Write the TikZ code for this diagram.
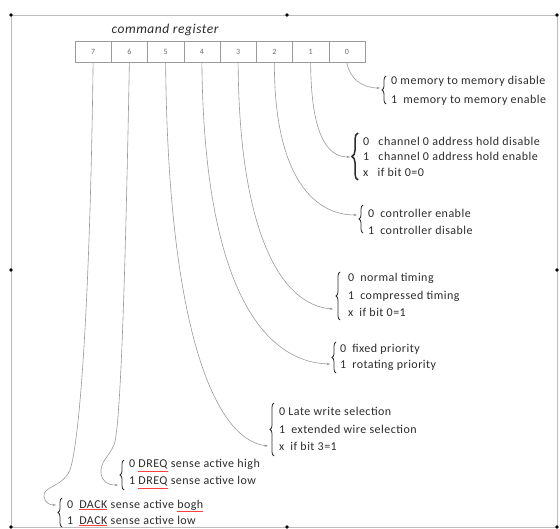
\documentclass[tikz,border=0pt]{standalone}
\usepackage{fontspec}
\setmainfont{Carlito}[LetterSpace=4]
\usetikzlibrary{arrows.meta,decorations.pathreplacing}
\definecolor{ink}{HTML}{2B2B2B}
\definecolor{wire}{HTML}{9A9A9A}
\definecolor{framegray}{HTML}{BDBDBD}
% spell-checker style red underline
\newcommand{\spell}[1]{{\color{red!75}\underline{\textcolor{ink}{#1}}}}
\newcommand{\gsize}[1]{\fontsize{12}{#1}\selectfont}

\begin{document}
\begin{tikzpicture}[x=1pt,y=-1pt,
  cell/.style={draw=wire, line width=0.5pt, minimum width=36.25pt, minimum height=21pt,
    inner sep=0, font=\fontsize{8}{8}\selectfont, text=wire!70!black},
  lbl/.style={anchor=west, align=left, inner sep=0, text=ink},
  wirecon/.style={draw=wire, line width=0.6pt, -{Stealth[length=3.5pt,width=2.6pt]}},
  brc/.style={draw=ink, line width=0.8pt, decorate, decoration={brace, amplitude=4pt}},
  handle/.style={fill=black, draw=none}]

\useasboundingbox (0,0) rectangle (560,529);

% canvas frame with its handles
\draw[framegray, line width=0.8pt] (11,15) rectangle (557,527);
\foreach \hx/\hy in {11/15,287/15,557/15,11/270,557/270,11/527,287/527,557/527}
  \fill[handle] (\hx,\hy) circle (1.8pt);

% title
\node[font=\fontsize{13.5}{13.5}\selectfont\itshape, text=ink] (title) at (165,30) {command register};

% register cells, bit 7 on the left
\foreach \b [count=\k from 0] in {7,6,5,4,3,2,1,0}
  \node[cell] (c\b) at ({93.125+\k*36.25},51.5) {\b};

% descriptions of each bit
\node[lbl, font=\gsize{19}] (t0) at (391,90.5)
  {0 memory to memory disable\\1\enspace memory to memory enable};
\node[lbl, font=\gsize{15.5}] (t1) at (363,156.5)
  {0\enspace\ channel 0 address hold disable\\1\enspace\ channel 0 address hold enable\\x\enspace\ if bit 0=0};
\node[lbl, font=\gsize{17}] (t2) at (368,221.5)
  {0\enspace controller enable\\1\enspace controller disable};
\node[lbl, font=\gsize{17.5}] (t3) at (348,295)
  {0\enspace normal timing\\1\enspace compressed timing\\x\enspace if bit 0=1};
\node[lbl, font=\gsize{16}] (t4) at (340,357)
  {0\enspace fixed priority\\1\enspace rotating priority};
\node[lbl, font=\gsize{17.5}] (t5) at (279,429)
  {0 Late write selection\\1\enspace extended wire selection\\x\enspace if bit 3=1};
\node[lbl, font=\gsize{17}] (t6) at (129,474)
  {0 \spell{DREQ} sense active high\\1 \spell{DREQ} sense active low};
\node[lbl, font=\gsize{16}] (t7) at (67,513)
  {0\enspace \spell{DACK} sense active \spell{bogh}\\1\enspace \spell{DACK} sense active low};

% braces
\draw[brc] (386,104) -- (386,76);
\draw[brc, line width=1.5pt, decoration={brace, amplitude=6pt}] (358,180) -- (358,133);
\draw[brc] (363,233) -- (363,205);
\draw[brc] (340,320) -- (340,272);
\draw[brc] (336,373) -- (336,342);
\draw[brc] (274,456) -- (274,403);
\draw[brc] (124,490) -- (124,460);
\draw[brc] (62,527) -- (62,498);

% arrow ends at the braces
\coordinate (e0) at (380,88);
\coordinate (e1) at (350,157);
\coordinate (e2) at (357,215);
\coordinate (e3) at (333,309);
\coordinate (e4) at (330,364);
\coordinate (e5) at (268,446);
\coordinate (e6) at (118,485);
\coordinate (e7) at (56,505);

% connectors from each bit
\draw[wirecon] (c0.south) .. controls (349,78) and (362,88) .. (e0);
\draw[wirecon] (c1.south) .. controls (311,130) and (325,157) .. (e1);
\draw[wirecon] (c2.south) .. controls (274,170) and (310,215) .. (e2);
\draw[wirecon] (c3.south) .. controls (239,230) and (280,305) .. (e3);
\draw[wirecon] (c4.south) .. controls (204,290) and (265,362) .. (e4);
\draw[wirecon] (c5.south) .. controls (168,330) and (215,440) .. (e5);
\draw[wirecon] (c6.south) .. controls (125,300) and (120,430) .. (114,445)
  .. controls (108,458) and (100,462) .. (101,473)
  .. controls (102,482) and (108,485) .. (e6);
\draw[wirecon] (c7.south) .. controls (90,300) and (80,440) .. (70,470)
  .. controls (62,488) and (42,486) .. (44,497)
  .. controls (45,503) and (50,505) .. (e7);
\end{tikzpicture}
\end{document}
